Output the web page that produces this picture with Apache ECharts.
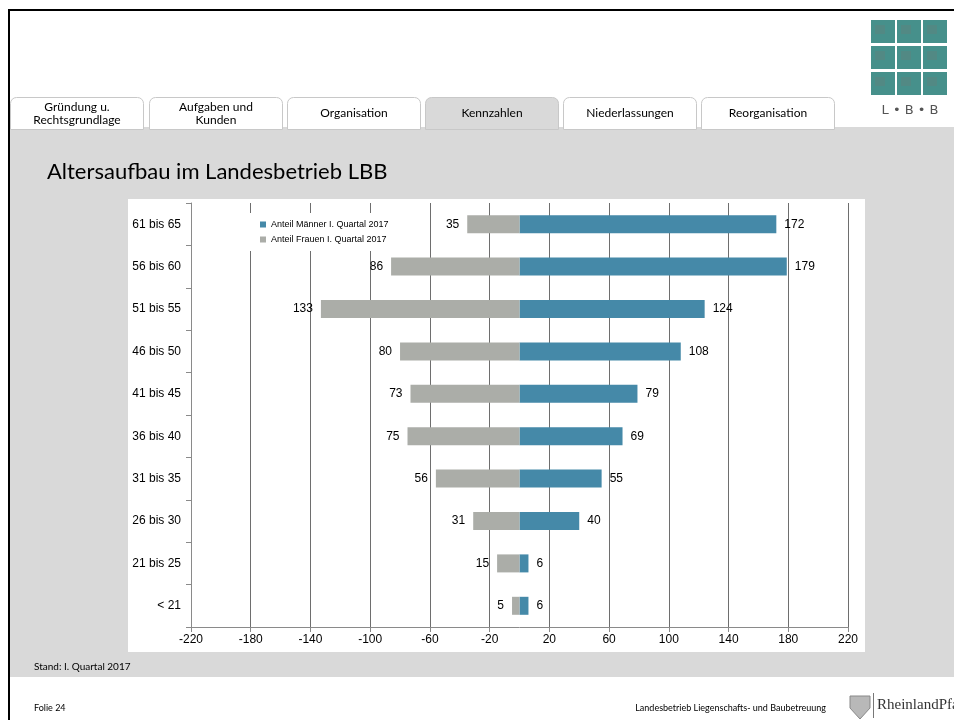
<!DOCTYPE html>
<html>
<head>
<meta charset="utf-8">
<script src="https://cdn.jsdelivr.net/npm/echarts@6/dist/echarts.min.js"></script>
<style>
html,body{margin:0;padding:0;background:#fff;}
#chart{width:954px;height:720px;}
</style>
</head>
<body>
<div id="chart"></div>
<script>
// ---- data ----
const categories = ['61 bis 65','56 bis 60','51 bis 55','46 bis 50','41 bis 45','36 bis 40','31 bis 35','26 bis 30','21 bis 25','< 21'];
const menValues = [172,179,124,108,79,69,55,40,6,6];
const womenValues = [35,86,133,80,73,75,56,31,15,5];
const xTickLabels = ['-220','-180','-140','-100','-60','-20','20','60','100','140','180','220'];
const seriesNames = ['Anteil Männer I. Quartal 2017','Anteil Frauen I. Quartal 2017'];
const tabLabels = ['Gründung u.\nRechtsgrundlage','Aufgaben und\nKunden','Organisation','Kennzahlen','Niederlassungen','Reorganisation'];

const slideFont = 'Lato, "Open Sans", sans-serif';
const chartFont = '"Liberation Sans", Arial, sans-serif';

// ---- slide decoration ----
const graphics = [];
graphics.push({type:'rect', z:-20, shape:{x:10,y:127,width:944,height:550}, style:{fill:'#d9d9d9'}});
graphics.push({type:'rect', z:-15, shape:{x:128,y:199,width:737,height:453}, style:{fill:'#ffffff'}});
graphics.push({type:'rect', z:-5, shape:{x:8,y:9,width:946,height:2}, style:{fill:'#000'}});
graphics.push({type:'rect', z:-5, shape:{x:8,y:9,width:2,height:711}, style:{fill:'#000'}});
const tabX = [10,149,287,425,563,701];
tabLabels.forEach((t,i)=>{
  const active = i === 3;
  graphics.push({type:'rect', z:-18, shape:{x:tabX[i]+0.5,y:97.5,width:133,height:32,r:[6,6,0,0]},
    style:{fill: active ? '#d9d9d9' : '#ffffff', stroke:'#c8c8c8', lineWidth:1}});
  graphics.push({type:'text', z:-4, x:tabX[i]+67, y:113.5,
    style:{text:t, fill:'#000', font:'12px '+slideFont, align:'center', verticalAlign:'middle', lineHeight:13}});
});
const logoX=[871,897,923], logoY=[20,46,72];
logoY.forEach(yy=>logoX.forEach(xx=>{
  graphics.push({type:'rect', z:-4, shape:{x:xx,y:yy,width:24,height:23}, style:{fill:'#46908b'}});
  graphics.push({type:'rect', z:-3, shape:{x:xx+4,y:yy+5,width:10,height:9}, style:{fill:'#5a8580', opacity:0.6}});
}));
graphics.push({type:'text', z:-4, x:910, y:111, style:{text:'L \u2022 B \u2022 B', fill:'#555', font:'13px "DejaVu Sans", sans-serif', align:'center', verticalAlign:'middle'}});
graphics.push({type:'text', z:-4, x:47, y:172, style:{text:'Altersaufbau im Landesbetrieb LBB', fill:'#000', font:'22px '+slideFont, verticalAlign:'middle'}});
graphics.push({type:'text', z:-4, x:34, y:667, style:{text:'Stand: I. Quartal 2017', fill:'#000', font:'10px '+slideFont, verticalAlign:'middle'}});
graphics.push({type:'text', z:-4, x:34, y:708, style:{text:'Folie 24', fill:'#000', font:'9px '+slideFont, verticalAlign:'middle'}});
graphics.push({type:'text', z:-4, x:826, y:708, style:{text:'Landesbetrieb Liegenschafts- und Baubetreuung', fill:'#000', font:'9px '+slideFont, align:'right', verticalAlign:'middle'}});
graphics.push({type:'polygon', z:-4, shape:{points:[[850,696],[870,696],[870,708],[860,719],[850,708]]}, style:{fill:'#b8b8b8', stroke:'#888', lineWidth:1}});
graphics.push({type:'line', z:-4, shape:{x1:873.5,y1:693,x2:873.5,y2:718}, style:{stroke:'#777', lineWidth:1}});
graphics.push({type:'text', z:-4, x:877, y:705, style:{text:'RheinlandPfalz', fill:'#333', font:'15px "Liberation Serif", serif', verticalAlign:'middle'}});

const chart = echarts.init(document.getElementById('chart'), null, {renderer:'canvas', width:954, height:720});
chart.setOption({
  animation:false,
  backgroundColor:'#ffffff',
  textStyle:{fontFamily:chartFont},
  graphic: graphics,
  legend:{
    data: seriesNames,
    orient:'vertical',
    left:250, top:213,
    padding:[7,10,7,10],
    itemWidth:6, itemHeight:6, itemGap:6,
    icon:'rect',
    backgroundColor:'#ffffff',
    textStyle:{fontSize:9, color:'#000', fontFamily:chartFont}
  },
  grid:{left:191, right:106, top:203, bottom:93, containLabel:false},
  xAxis:[{
    type:'value', position:'bottom',
    min:0, max:440, interval:40,
    axisLine:{show:true, lineStyle:{color:'#8a8a8a', width:1}},
    axisTick:{show:true, length:5, lineStyle:{color:'#8a8a8a'}},
    axisLabel:{fontSize:12, color:'#000', margin:7, fontFamily:chartFont,
      formatter:(v)=>xTickLabels[Math.round(v/40)]},
    splitLine:{show:true, lineStyle:{color:'#6e6e6e', width:1}}
  },{
    type:'value', position:'top', show:false,
    min:-220, max:220,
    splitLine:{show:false}
  }],
  yAxis:{
    type:'category', data:categories, inverse:true,
    axisLine:{show:true, lineStyle:{color:'#8a8a8a', width:1}},
    axisTick:{show:true, length:5, lineStyle:{color:'#8a8a8a'}},
    axisLabel:{fontSize:12, color:'#000', margin:10, fontFamily:chartFont},
    splitLine:{show:false}
  },
  series:[{
    name:seriesNames[0], type:'bar', xAxisIndex:1, data:menValues,
    barWidth:18, barGap:'-100%',
    itemStyle:{color:'#4589a8'},
    label:{show:true, position:'right', distance:8, color:'#000', fontSize:12, fontFamily:chartFont}
  },{
    name:seriesNames[1], type:'bar', xAxisIndex:1, data:womenValues.map(v=>-v),
    barWidth:18, barGap:'-100%',
    itemStyle:{color:'#abada8'},
    label:{show:true, position:'left', distance:8, color:'#000', fontSize:12, fontFamily:chartFont,
      formatter:(p)=>String(Math.abs(p.value))}
  }]
});
</script>
</body>
</html>
